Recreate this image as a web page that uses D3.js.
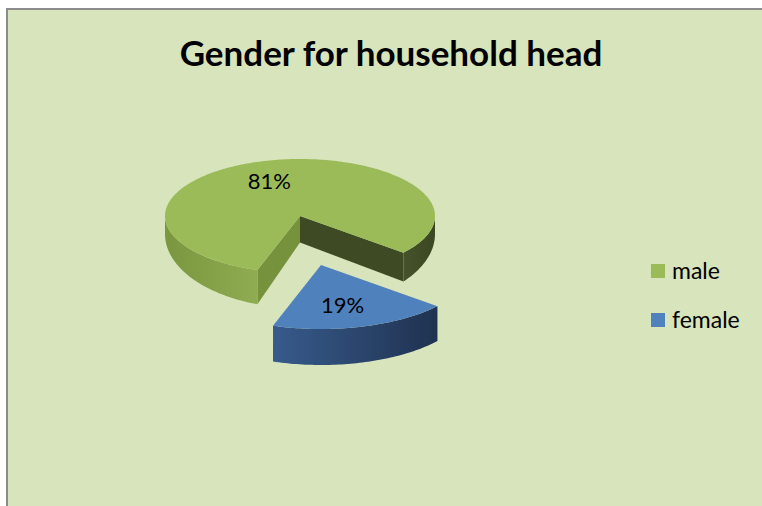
<!DOCTYPE html>
<html>
<head>
<meta charset="utf-8">
<script src="https://cdnjs.cloudflare.com/ajax/libs/d3/7.8.5/d3.min.js"></script>
<style>
  body { margin: 0; background: #fff; }
  text { font-family: Lato, "Open Sans", sans-serif; }
</style>
</head>
<body>
<div id="chart"></div>
<script>
var svgWidth = 762;
var svgHeight = 506;

// chart data
var categories = ['male', 'female'];
var values = [81, 19];
var colors = ['#9bbb59', '#4f81bd'];
var title = 'Gender for household head';

var svg = d3.select('#chart')
  .append('svg')
  .attr('width', svgWidth)
  .attr('height', svgHeight);

var defs = svg.append('defs');

// chart area
svg.append('rect')
  .attr('x', 7)
  .attr('y', 9)
  .attr('width', svgWidth + 10)
  .attr('height', svgHeight + 10)
  .attr('fill', '#d8e4bc')
  .attr('stroke', '#8c8c8c')
  .attr('stroke-width', 2);

svg.append('text')
  .attr('x', 391)
  .attr('y', 66)
  .attr('text-anchor', 'middle')
  .attr('font-size', 35)
  .attr('font-weight', 'bold')
  .attr('fill', '#000')
  .text(title);

var color = d3.scaleOrdinal().domain(categories).range(colors);

var pie = d3.pie()
  .sort(null)
  .startAngle(198.4 * Math.PI / 180)
  .endAngle((198.4 + 360) * Math.PI / 180);

var slices = pie(values);

// per slice geometry of the tilted pie (the exploded one sits nearer, so a bit bigger)
// depth grows toward the viewer: d0 at the centre line, +d1 at the front
var geo = [
  { cx: 300, cy: 216, rx: 135, ry: 57, d0: 18, d1: 17 },
  { cx: 321, cy: 265, rx: 152, ry: 64, d0: 33, d1: 3 }
];

function depth(g, a) {
  return g.d0 + g.d1 * Math.max(0, Math.sin(a - Math.PI / 2));
}

function pt(g, a, down) {
  var phi = a - Math.PI / 2;
  return [g.cx + g.rx * Math.cos(phi), g.cy + g.ry * Math.sin(phi) + (down ? depth(g, a) : 0)];
}

function arcPts(g, a0, a1, down) {
  var pts = [];
  var n = Math.max(2, Math.ceil(Math.abs(a1 - a0) / 0.02));
  for (var i = 0; i <= n; i++) {
    pts.push(pt(g, a0 + (a1 - a0) * i / n, down));
  }
  return pts;
}

function poly(pts) {
  return 'M' + pts.map(p => p[0].toFixed(2) + ',' + p[1].toFixed(2)).join('L') + 'Z';
}

// outer wall pieces that face the viewer (screen angle between 0 and 180)
function frontRanges(a0, a1) {
  var out = [];
  for (var k = -1; k <= 2; k++) {
    var f0 = Math.PI / 2 + k * 2 * Math.PI;
    var f1 = 3 * Math.PI / 2 + k * 2 * Math.PI;
    var s = Math.max(a0, f0), e = Math.min(a1, f1);
    if (e > s) out.push([s, e]);
  }
  return out;
}

function grad(id, c0, c1) {
  var lg = defs.append('linearGradient').attr('id', id)
    .attr('x1', 0).attr('x2', 1).attr('y1', 0).attr('y2', 0);
  lg.append('stop').attr('offset', 0).attr('stop-color', c0);
  lg.append('stop').attr('offset', 1).attr('stop-color', c1);
}
grad('maleSideL', '#7a963f', '#8fac51');
grad('maleSideR', '#45522a', '#3b4722');
grad('femaleSide', '#375b8c', '#1f3250');

var pieGroup = svg.append('g');

// male slice
var m = slices[0], gm = geo[0];
var c0 = [gm.cx, gm.cy];
var c0d = [gm.cx, gm.cy + gm.d0 + gm.d1 * 0.5];
// cut face at end angle (dark)
pieGroup.append('path')
  .attr('d', poly([c0, pt(gm, m.endAngle), pt(gm, m.endAngle, true), c0d]))
  .attr('fill', '#3e4a23');
// cut face at start angle
pieGroup.append('path')
  .attr('d', poly([c0, pt(gm, m.startAngle), pt(gm, m.startAngle, true), c0d]))
  .attr('fill', '#76923c');
// outer walls
frontRanges(m.startAngle, m.endAngle).forEach(function(r) {
  var top = arcPts(gm, r[0], r[1], false);
  var bot = arcPts(gm, r[1], r[0], true);
  var left = pt(gm, r[0])[0] < gm.cx;
  pieGroup.append('path')
    .attr('d', poly(top.concat(bot)))
    .attr('fill', left ? 'url(#maleSideL)' : 'url(#maleSideR)');
});
// top
pieGroup.append('path')
  .attr('d', poly([c0].concat(arcPts(gm, m.startAngle, m.endAngle, false))))
  .attr('fill', color(categories[0]));

// female slice
var f = slices[1], gf = geo[1];
frontRanges(f.startAngle, f.endAngle).forEach(function(r) {
  var top = arcPts(gf, r[0], r[1], false);
  var bot = arcPts(gf, r[1], r[0], true);
  pieGroup.append('path')
    .attr('d', poly(top.concat(bot)))
    .attr('fill', 'url(#femaleSide)');
});
pieGroup.append('path')
  .attr('d', poly([[gf.cx, gf.cy]].concat(arcPts(gf, f.startAngle, f.endAngle, false))))
  .attr('fill', color(categories[1]));

// data labels
var total = d3.sum(values);
var labelShift = [[-8, 1], [-4, 4]];
slices.forEach(function(d, i) {
  var g = geo[i];
  var mid = (d.startAngle + d.endAngle) / 2 - Math.PI / 2;
  svg.append('text')
    .attr('x', g.cx + g.rx * 0.62 * Math.cos(mid) + labelShift[i][0])
    .attr('y', g.cy + g.ry * 0.62 * Math.sin(mid) + labelShift[i][1])
    .attr('text-anchor', 'middle')
    .attr('dominant-baseline', 'middle')
    .attr('font-size', 22)
    .attr('fill', '#000')
    .text(Math.round(d.value / total * 100) + '%');
});

// legend
var legend = svg.append('g').attr('transform', 'translate(651, 264)');
categories.forEach(function(c, i) {
  var row = legend.append('g').attr('transform', `translate(0, ${i * 49})`);
  row.append('rect')
    .attr('width', 14)
    .attr('height', 14)
    .attr('fill', color(c));
  row.append('text')
    .attr('x', 21)
    .attr('y', 15)
    .attr('font-size', 23)
    .attr('fill', '#000')
    .text(c);
});
</script>
</body>
</html>
